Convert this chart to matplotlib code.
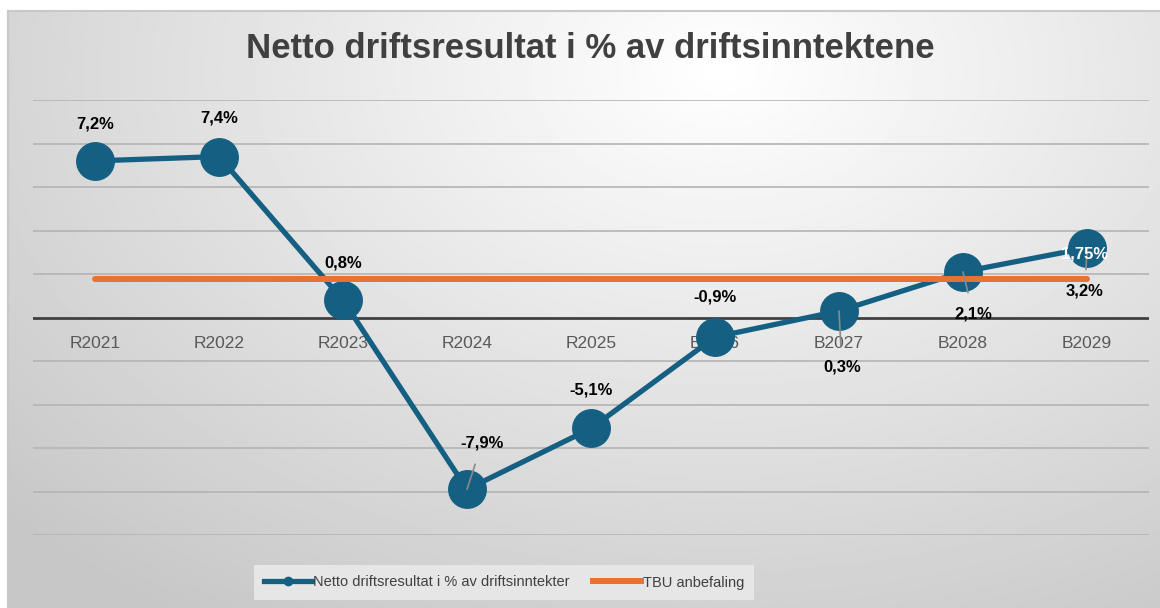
import numpy as np
import matplotlib.pyplot as plt
from matplotlib.lines import Line2D

# ====== DATA ======
years = ["R2021", "R2022", "R2023", "R2024", "R2025", "B2026", "B2027", "B2028", "B2029"]
netto = [7.2, 7.4, 0.8, -7.9, -5.1, -0.9, 0.3, 2.1, 3.2]
tbu = [1.75] * len(years)
labels_netto = ["7,2%", "7,4%", "0,8%", "-7,9%", "-5,1%", "-0,9%", "0,3%", "2,1%", "3,2%"]
label_tbu = "1,75%"

TITLE = "Netto driftsresultat i % av driftsinntektene"
NAME_NETTO = "Netto driftsresultat i % av driftsinntekter"
NAME_TBU = "TBU anbefaling"

# label offsets (pixels) and whether a leader line is drawn
offsets = [(0, 37), (0, 39), (0, 37), (15, 46), (0, 38), (0, 40), (3, -56), (10, -42), (-2, -43)]
leaders = [False, False, False, True, False, False, True, True, True]

BLUE = "#156082"
ORANGE = "#E97132"
W, H = 1160, 608

fig = plt.figure(figsize=(W / 100, H / 100), dpi=100)
fig.patch.set_facecolor("white")

# ====== gradient chart background ======
bg = fig.add_axes([8 / W, 0, 1 - 8 / W, 1 - 11 / H])
yy, xx = np.mgrid[0:1:300j, 0:1:600j]
r = np.sqrt(((xx - 0.62) / 1.0) ** 2 + ((yy - 0.1) / 1.3) ** 2)
shade = np.clip(1.0 - 0.26 * r, 0.78, 1.0)
bg.imshow(shade, cmap="gray", vmin=0, vmax=1, aspect="auto", extent=[0, 1, 1, 0])
bg.set_axis_off()
fig.add_artist(Line2D([8 / W, 1], [1 - 11 / H, 1 - 11 / H], color="#c8c8c8", lw=1.5))
fig.add_artist(Line2D([8 / W, 8 / W], [0, 1 - 11 / H], color="#c8c8c8", lw=1.5))

# ====== main axes ======
ax = fig.add_axes([33 / W, 1 - 535 / H, (1149 - 33) / W, (535 - 100) / H])
ax.patch.set_alpha(0)
x = np.arange(len(years))
ax.set_xlim(-0.5, len(years) - 0.5)
ax.set_ylim(-10, 10)
for gy in range(-10, 11, 2):
    if gy != 0:
        ax.axhline(gy, color="#b4b4b4", lw=1.2, zorder=1)
ax.axhline(0, color="#404040", lw=2, zorder=2)
for s in ax.spines.values():
    s.set_visible(False)
ax.set_yticks([])
ax.set_xticks([])
for xi, lab in zip(x, years):
    ax.annotate(lab, (xi, 0), xytext=(0, -26), textcoords="offset pixels",
                ha="center", va="center", fontsize=12.5, color="#595959",
                family="Liberation Sans", zorder=3)

ax.plot(x, netto, color=BLUE, lw=3.8, marker="o", markersize=27, zorder=4)
ax.plot(x, tbu, color=ORANGE, lw=4.3, zorder=5, solid_capstyle="round")

for xi, v, lab, (dx, dy), ld in zip(x, netto, labels_netto, offsets, leaders):
    props = None
    if ld:
        props = dict(arrowstyle="-", color="#8a8a8a", lw=1.2, shrinkA=8, shrinkB=0)
    ax.annotate(lab, (xi, v), xytext=(dx, dy), textcoords="offset pixels",
                ha="center", va="center", fontsize=12, fontweight="bold",
                color="black", family="Liberation Sans", arrowprops=props, zorder=6)

ax.annotate(label_tbu, (x[-1], tbu[-1]), xytext=(-2, 25), textcoords="offset pixels",
            ha="center", va="center", fontsize=12, fontweight="bold",
            color="white", family="Liberation Sans", zorder=7)

fig.text(590 / W, 1 - 48 / H, TITLE, ha="center", va="center", fontsize=25,
         fontweight="bold", color="#404040", family="Liberation Sans")

# ====== legend ======
handles = [
    Line2D([], [], color=BLUE, lw=3.8, marker="o", markersize=6),
    Line2D([], [], color=ORANGE, lw=4.3),
]
leg = fig.legend(handles, [NAME_NETTO, NAME_TBU], loc="center",
                 bbox_to_anchor=(504 / W, 1 - 582.5 / H), ncol=2, frameon=True,
                 fancybox=False, handlelength=3.3, handletextpad=0.1, columnspacing=1.6,
                 borderpad=0.7, borderaxespad=0, prop={"family": "Liberation Sans", "size": 10.5})
leg.get_frame().set_facecolor("#e6e6e6")
leg.get_frame().set_edgecolor("none")
leg.get_frame().set_alpha(1)
for t in leg.get_texts():
    t.set_color("#404040")

fig.savefig("out.png", dpi=100)
